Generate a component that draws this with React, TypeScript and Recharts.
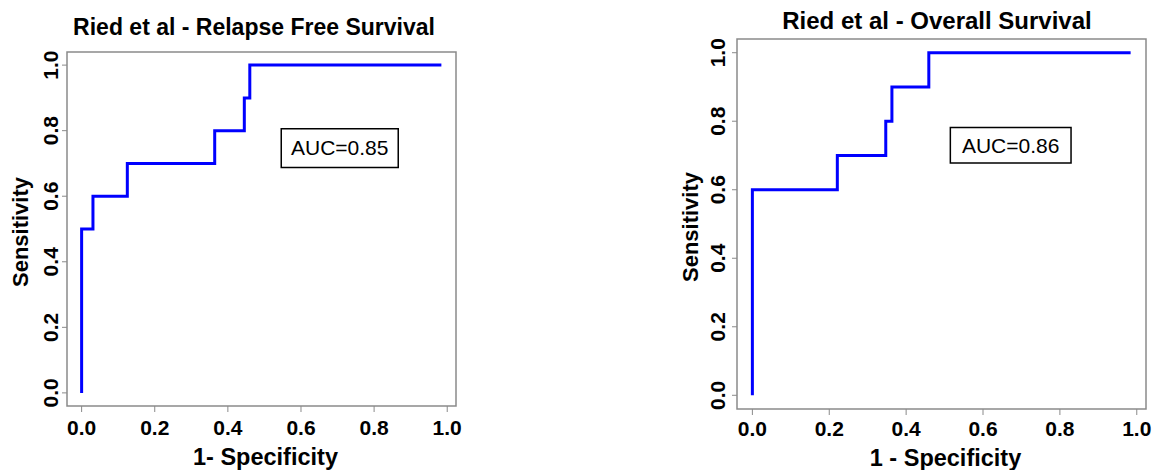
import React from 'react';
import { LineChart, Line, XAxis, YAxis, ReferenceArea } from 'recharts';

const xTicks = [0, 0.2, 0.4, 0.6, 0.8, 1.0];
const yTicks = [0, 0.2, 0.4, 0.6, 0.8, 1.0];

// ROC corner points: 1 - specificity vs sensitivity
const rfsFpr = [0, 0, 0.031, 0.125, 0.364, 0.445, 0.46, 0.984];
const rfsTpr = [0, 0.5, 0.6, 0.7, 0.8, 0.9, 1.0, 1.0];
const rfsAuc = 0.85;

const osFpr = [0, 0, 0.221, 0.347, 0.363, 0.459, 0.984];
const osTpr = [0, 0.6, 0.7, 0.8, 0.9, 1.0, 1.0];
const osAuc = 0.86;

const FONT = '"Liberation Sans", Arial, Helvetica, sans-serif';
const BOX = '#8a8a8a';
const X_DOMAIN: [number, number] = [-0.04, 1.024];
const Y_DOMAIN: [number, number] = [-0.04, 1.04];

type PanelProps = {
    title: string;
    xLabel: string;
    fpr: number[];
    tpr: number[];
    auc: number;
    aucBox: [number, number, number, number];
    left: number;
    width: number;
    plotLeft: number;
    plotRight: number;
    plotTop: number;
    plotBottom: number;
    titleX: number;
    titleY: number;
    titleSize: number;
    xTickDy: number;
    yTickDx: number;
    xLabelY: number;
    yLabelX: number;
};

const Panel: React.FC<PanelProps> = (p) => {
    const height = 470;
    const data = p.fpr.map((x, i) => ({ fpr: x, tpr: p.tpr[i] }));
    const midX = (p.plotLeft + p.plotRight) / 2;
    const midY = (p.plotTop + p.plotBottom) / 2;

    const XTick = ({ x, y, payload }: any) => (
        <text x={x} y={y + p.xTickDy} textAnchor="middle" fontSize={21} fontWeight="bold" fill="#000" fontFamily={FONT}>
            {Number(payload.value).toFixed(1)}
        </text>
    );
    const YTick = ({ x, y, payload }: any) => (
        <text
            x={x + p.yTickDx}
            y={y}
            textAnchor="middle"
            fontSize={21}
            fontWeight="bold"
            fill="#000"
            fontFamily={FONT}
            transform={`rotate(-90, ${x + p.yTickDx}, ${y})`}
        >
            {Number(payload.value).toFixed(1)}
        </text>
    );

    return (
        <div style={{ position: 'absolute', left: p.left, top: 0 }}>
            <LineChart
                width={p.width}
                height={height}
                data={data}
                margin={{ top: p.plotTop, right: p.width - p.plotRight, bottom: 0, left: 0 }}
            >
                <XAxis
                    dataKey="fpr"
                    type="number"
                    domain={X_DOMAIN}
                    ticks={xTicks}
                    allowDataOverflow
                    axisLine={false}
                    tickLine={{ stroke: BOX }}
                    tickSize={6}
                    tickMargin={0}
                    height={height - p.plotBottom}
                    tick={<XTick />}
                />
                <YAxis
                    type="number"
                    domain={Y_DOMAIN}
                    ticks={yTicks}
                    allowDataOverflow
                    axisLine={false}
                    tickLine={{ stroke: BOX }}
                    tickSize={5}
                    tickMargin={0}
                    width={p.plotLeft}
                    tick={<YTick />}
                />
                <ReferenceArea
                    x1={X_DOMAIN[0]}
                    x2={X_DOMAIN[1]}
                    y1={Y_DOMAIN[0]}
                    y2={Y_DOMAIN[1]}
                    fill="none"
                    fillOpacity={0}
                    stroke={BOX}
                    strokeWidth={1.5}
                    ifOverflow="visible"
                />
                <Line
                    dataKey="tpr"
                    type="stepAfter"
                    stroke="#0000ff"
                    strokeWidth={3}
                    dot={false}
                    isAnimationActive={false}
                />
                <ReferenceArea
                    x1={p.aucBox[0]}
                    x2={p.aucBox[1]}
                    y1={p.aucBox[2]}
                    y2={p.aucBox[3]}
                    fill="#fff"
                    fillOpacity={1}
                    stroke="#000"
                    strokeWidth={1.5}
                    label={{ value: `AUC=${p.auc.toFixed(2)}`, position: 'center', fontSize: 21, fill: '#000', fontFamily: FONT }}
                />
                <text x={p.titleX} y={p.titleY} textAnchor="middle" dominantBaseline="central" fontSize={p.titleSize} fontWeight="bold" fill="#000" fontFamily={FONT}>
                    {p.title}
                </text>
                <text x={midX + 4} y={p.xLabelY} textAnchor="middle" dominantBaseline="central" fontSize={23.5} fontWeight="bold" fill="#000" fontFamily={FONT}>
                    {p.xLabel}
                </text>
                <text
                    x={p.yLabelX}
                    y={midY + 3}
                    textAnchor="middle"
                    dominantBaseline="central"
                    fontSize={22}
                    fontWeight="bold"
                    fill="#000"
                    fontFamily={FONT}
                    transform={`rotate(-90, ${p.yLabelX}, ${midY + 3})`}
                >
                    Sensitivity
                </text>
            </LineChart>
        </div>
    );
};

export default function App() {
    return (
        <div style={{ position: 'absolute', left: 0, top: 0, width: 1157, height: 470, background: '#fff', fontFamily: FONT }}>
            <Panel
                title="Ried et al - Relapse Free Survival"
                xLabel="1- Specificity"
                fpr={rfsFpr}
                tpr={rfsTpr}
                auc={rfsAuc}
                aucBox={[0.546, 0.866, 0.688, 0.806]}
                left={0}
                width={578}
                plotLeft={67}
                plotRight={456}
                plotTop={52}
                plotBottom={406}
                titleX={254}
                titleY={27}
                titleSize={23}
                xTickDy={23}
                yTickDx={-4}
                xLabelY={457}
                yLabelX={20}
            />
            <Panel
                title="Ried et al - Overall Survival"
                xLabel="1 - Specificity"
                fpr={osFpr}
                tpr={osTpr}
                auc={osAuc}
                aucBox={[0.515, 0.829, 0.678, 0.782]}
                left={578}
                width={579}
                plotLeft={159}
                plotRight={568}
                plotTop={39}
                plotBottom={409}
                titleX={359}
                titleY={20}
                titleSize={24}
                xTickDy={21}
                yTickDx={-7}
                xLabelY={458}
                yLabelX={112}
            />
        </div>
    );
}
